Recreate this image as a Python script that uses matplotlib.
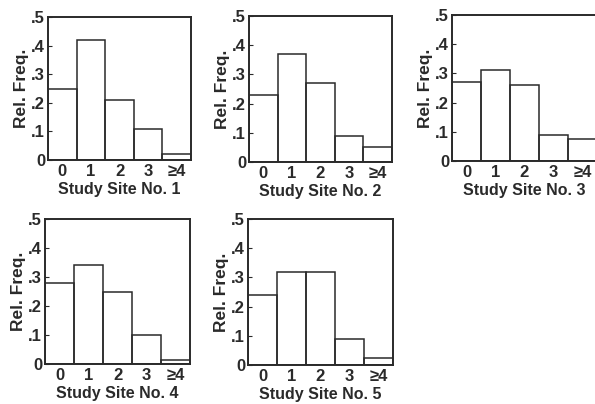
import matplotlib.pyplot as plt

plt.rcParams['font.family'] = ['Liberation Sans', 'DejaVu Sans']

# relative frequencies per study site
categories = ['0', '1', '2', '3', '≥4']
site1 = [0.25, 0.42, 0.21, 0.11, 0.02]
site2 = [0.23, 0.37, 0.27, 0.09, 0.05]
site3 = [0.27, 0.31, 0.26, 0.09, 0.075]
site4 = [0.28, 0.34, 0.25, 0.10, 0.015]
site5 = [0.24, 0.32, 0.32, 0.09, 0.025]
sites = [site1, site2, site3, site4, site5]
ytick_vals = [0, 0.1, 0.2, 0.3, 0.4, 0.5]
ytick_labels = ['0', '.1', '.2', '.3', '.4', '.5']

W, H = 595, 404
fig = plt.figure(figsize=(W / 100, H / 100), dpi=100)

# axes boxes in pixels: left, right, top, bottom
boxes = [(48, 191, 17, 160), (249, 392, 16, 162), (452, 597, 15, 161),
         (45, 190, 219, 364), (248, 393, 219, 365)]

ink = '#2a2a2a'
for i, (vals, (x0, x1, y0, y1)) in enumerate(zip(sites, boxes)):
    ax = fig.add_axes([x0 / W, 1 - y1 / H, (x1 - x0) / W, (y1 - y0) / H])
    ax.bar(range(len(vals)), vals, width=1, fill=False, edgecolor=ink, linewidth=1.1)
    ax.set_xlim(-0.5, 4.5)
    ax.set_ylim(0, 0.5)
    ax.set_xticks(range(len(categories)))
    ax.set_xticklabels(categories, fontweight='bold')
    ax.set_yticks(ytick_vals)
    ax.set_yticklabels(ytick_labels, fontweight='bold')
    ax.tick_params(axis='x', length=0, pad=3, labelsize=12, colors=ink)
    ax.tick_params(axis='y', direction='in', length=3, width=0.8, pad=2,
                   labelsize=12, colors=ink)
    for s in ax.spines.values():
        s.set_color(ink)
        s.set_linewidth(1.4)
    ax.set_xlabel(f'Study Site No. {i + 1}', fontsize=11.5, fontweight='bold',
                  color=ink, labelpad=2)
    ax.set_ylabel('Rel. Freq.', fontsize=12.5, fontweight='bold',
                  color=ink, labelpad=2)

fig.savefig('out.png', dpi=100)
